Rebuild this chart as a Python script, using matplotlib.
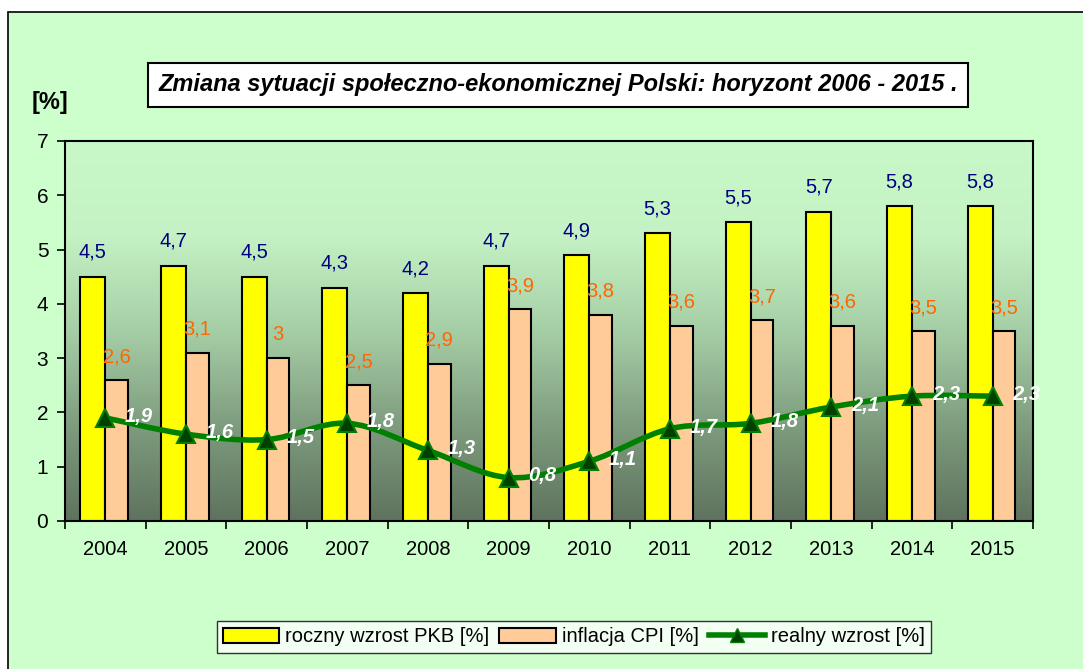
import numpy as np
import matplotlib
matplotlib.use("Agg")
import matplotlib.pyplot as plt
from matplotlib.path import Path
from matplotlib.patches import PathPatch, Rectangle
from matplotlib.lines import Line2D
from matplotlib.colors import LinearSegmentedColormap

years = ["2004", "2005", "2006", "2007", "2008", "2009",
         "2010", "2011", "2012", "2013", "2014", "2015"]
pkb = [4.5, 4.7, 4.5, 4.3, 4.2, 4.7, 4.9, 5.3, 5.5, 5.7, 5.8, 5.8]
cpi = [2.6, 3.1, 3.0, 2.5, 2.9, 3.9, 3.8, 3.6, 3.7, 3.6, 3.5, 3.5]
realny = [1.9, 1.6, 1.5, 1.8, 1.3, 0.8, 1.1, 1.7, 1.8, 2.1, 2.3, 2.3]

title = "Zmiana sytuacji społeczno-ekonomicznej Polski: horyzont 2006 - 2015 ."
legend_labels = ["roczny wzrost PKB [%]", "inflacja CPI [%]", "realny wzrost [%]"]

plt.rcParams["font.family"] = ["Liberation Sans", "DejaVu Sans"]

BG = "#CCFFCC"
YELLOW = "#FFFF00"
PEACH = "#FFCC99"
LINE_GREEN = "#008000"


def fmt(v):
    s = f"{v:.1f}".replace(".", ",")
    return s[:-2] if s.endswith(",0") else s


def smooth_path(xs, ys, t=1 / 6):
    # Catmull-Rom style bezier through the data points (Excel "smoothed line")
    verts = [(xs[0], ys[0])]
    codes = [Path.MOVETO]
    n = len(xs)
    for i in range(n - 1):
        x0, y0 = (xs[i - 1], ys[i - 1]) if i > 0 else (xs[i], ys[i])
        x1, y1 = xs[i], ys[i]
        x2, y2 = xs[i + 1], ys[i + 1]
        x3, y3 = (xs[i + 2], ys[i + 2]) if i + 2 < n else (x2, y2)
        c1 = (x1 + (x2 - x0) * t, y1 + (y2 - y0) * t)
        c2 = (x2 - (x3 - x1) * t, y2 - (y3 - y1) * t)
        verts += [c1, c2, (x2, y2)]
        codes += [Path.CURVE4] * 3
    return Path(verts, codes)


fig = plt.figure(figsize=(10.83, 6.69), dpi=100, facecolor="white")
fig.patches.append(Rectangle((8 / 1083, -0.05), 1.1, (669 - 12) / 669 + 0.05,
                             transform=fig.transFigure, facecolor=BG,
                             edgecolor="black", linewidth=1.2, zorder=-5))

ax = fig.add_axes([65 / 1083, (669 - 521) / 669, 968 / 1083, 380 / 669])
ax.set_zorder(1)
ax.set_xlim(0, len(years))
ax.set_ylim(0, 7)

grad = LinearSegmentedColormap.from_list(
    "bg", ["#5E735E", "#7E9C7E", "#A6CEA6", "#C4F2C4", "#C8F8C8"])
ax.imshow(np.linspace(0, 1, 256).reshape(-1, 1), cmap=grad, aspect="auto",
          extent=[0, len(years), 0, 7], origin="lower", zorder=0)

x = np.arange(len(years)) + 0.5
w1, w2 = 0.31, 0.28
ax.bar(x - w1 / 2, pkb, w1, color=YELLOW, edgecolor="black", linewidth=1.5, zorder=2)
ax.bar(x + w2 / 2, cpi, w2, color=PEACH, edgecolor="black", linewidth=1.5, zorder=2)

ax.add_patch(PathPatch(smooth_path(x, realny), facecolor="none",
                       edgecolor=LINE_GREEN, linewidth=4, zorder=3,
                       capstyle="round", joinstyle="round"))
ax.plot(x, realny, linestyle="none", marker="^", markersize=13,
        markerfacecolor="#004000", markeredgecolor=LINE_GREEN,
        markeredgewidth=1.5, zorder=4)

for xi, v in zip(x, pkb):
    ax.text(xi - w1 / 2, v + 0.45, fmt(v), color="#000080", fontsize=14.5,
            ha="center", va="center", zorder=5)
for xi, v in zip(x, cpi):
    ax.text(xi + w2 / 2, v + 0.43, fmt(v), color="#FF6600", fontsize=14.5,
            ha="center", va="center", zorder=5)
for xi, v in zip(x, realny):
    ax.text(xi + 0.42, v + 0.03, fmt(v), color="white", fontsize=14.5,
            fontweight="bold", fontstyle="italic", ha="center", va="center",
            zorder=5)

ax.set_xticks(np.arange(len(years) + 1))
ax.set_xticklabels([])
ax.set_xticks(x, minor=True)
ax.set_xticklabels(years, minor=True, fontsize=14.5)
ax.tick_params(axis="x", which="minor", length=0, pad=14)
ax.tick_params(axis="x", which="major", length=6, width=1.2, direction="out")
ax.set_yticks(range(8))
ax.tick_params(axis="y", length=6, width=1.2, direction="out", labelsize=15, pad=6)
for s in ax.spines.values():
    s.set_linewidth(1.5)

fig.text(50 / 1083, 1 - 103 / 669, "[%]", fontsize=17, fontweight="bold",
         ha="center", va="center")

fig.text(558 / 1083, 1 - 85 / 669, title, fontsize=17, fontweight="bold",
         fontstyle="italic", ha="center", va="center",
         bbox=dict(boxstyle="square,pad=0.45", facecolor="white",
                   edgecolor="black", linewidth=1.5))

handles = [
    Rectangle((0, 0), 1, 1, facecolor=YELLOW, edgecolor="black", linewidth=1.5),
    Rectangle((0, 0), 1, 1, facecolor=PEACH, edgecolor="black", linewidth=1.5),
    Line2D([], [], color=LINE_GREEN, linewidth=4, marker="^", markersize=10,
           markerfacecolor="#004000", markeredgecolor=LINE_GREEN),
]
leg = fig.legend(handles, legend_labels, ncol=3, loc="center",
                 bbox_to_anchor=(574 / 1083, 1 - 637 / 669), fontsize=14.5,
                 frameon=True, fancybox=False, edgecolor="black",
                 handlelength=2.8, handletextpad=0.3, columnspacing=0.5,
                 borderpad=0.3)
leg.get_frame().set_linewidth(1.0)

fig.savefig("out.png", dpi=100, facecolor="white")
